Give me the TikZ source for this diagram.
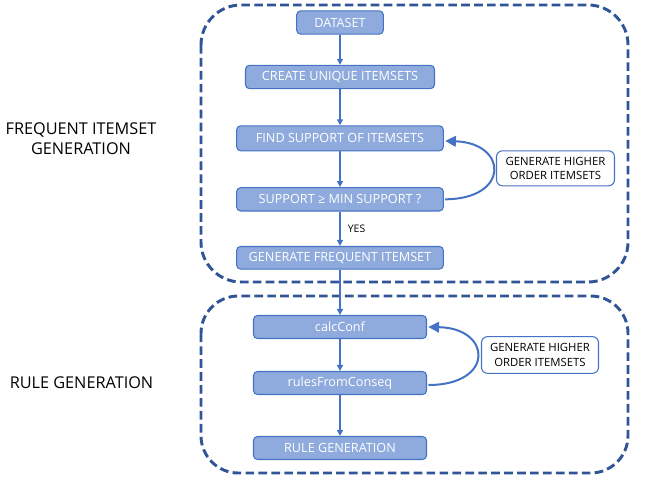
\documentclass[tikz,border=0pt]{standalone}
\usepackage{fontspec}
\setmainfont{Open Sans}
\usetikzlibrary{arrows.meta}
\definecolor{boxfill}{HTML}{8FAADC}
\definecolor{boxline}{HTML}{4472C4}
\definecolor{dashline}{HTML}{2F5597}
\definecolor{arrowc}{HTML}{4472C4}
\tikzset{
  stepbox/.style={draw=boxline, fill=boxfill, line width=0.8pt, rounded corners=3pt,
    inner sep=0pt, text=white, font=\fontsize{9.5}{10}\selectfont, minimum height=17.5pt},
  notebox/.style={draw=boxline, fill=white, line width=0.8pt, rounded corners=4.5pt,
    inner sep=0pt, align=center, text=black, font=\fontsize{8.5}{11}\selectfont},
  group/.style={draw=dashline, line width=2.2pt, dash pattern=on 6.5pt off 3.2pt},
  flow/.style={draw=arrowc, line width=1.2pt, -{Triangle[length=4.5pt,width=4.5pt]}},
  loop/.style={draw=arrowc, line width=1.5pt, -{Triangle[length=8pt,width=8pt]}},
  sidelabel/.style={align=center, font=\fontsize{12.2}{15}\selectfont, inner sep=0pt}
}
\begin{document}
\begin{tikzpicture}[x=0.75pt,y=-0.75pt]
\useasboundingbox (0,0) rectangle (645,485);
% groups
\draw[group, rounded corners=30pt] (201,5) rectangle (628,282);
\draw[group, rounded corners=28pt] (201,296) rectangle (628,473);
% nodes
\node[stepbox, minimum width=65pt] (ds) at (340,22.5) {DATASET};
\node[stepbox, minimum width=141.75pt] (cu) at (340,77) {CREATE UNIQUE ITEMSETS};
\node[stepbox, minimum width=155pt, minimum height=18.75pt] (fs) at (340,138.3) {FIND SUPPORT OF ITEMSETS};
\node[stepbox, minimum width=155pt] (sm) at (340,199.3) {SUPPORT ≥ MIN SUPPORT ?};
\node[stepbox, minimum width=155pt, minimum height=17pt] (gf) at (340,257.8) {GENERATE FREQUENT ITEMSET};
\node[notebox, minimum width=88.5pt, minimum height=26.25pt] (gh1) at (555.5,168.3) {GENERATE HIGHER\\ORDER ITEMSETS};
\node[stepbox, minimum width=129.75pt, minimum height=17.25pt] (cc) at (340,327) {calcConf};
\node[stepbox, minimum width=129.75pt, minimum height=17.25pt] (rf) at (340,383) {rulesFromConseq};
\node[stepbox, minimum width=129.75pt, minimum height=17.25pt] (rg) at (340,448) {RULE GENERATION};
\node[notebox, minimum width=87.75pt, minimum height=27.5pt] (gh2) at (540,355) {GENERATE HIGHER\\ORDER ITEMSETS};
% side labels
\node[sidelabel] (l1) at (81,139) {FREQUENT ITEMSET\\GENERATION};
\node[sidelabel] (l2) at (81.5,383) {RULE GENERATION};
% connectors
\draw[flow] (ds) -- (cu);
\draw[flow] (cu) -- (fs);
\draw[flow] (fs) -- (sm);
\draw[flow] (sm) -- node[right, font=\fontsize{7.8}{9}\selectfont, text=black, xshift=2pt] (yes) {YES} (gf);
\draw[flow] (gf) -- (cc);
\draw[flow] (cc) -- (rf);
\draw[flow] (rf) -- (rg);
\draw[loop] ([xshift=1pt]sm.east) .. controls (510,199) and (508,143) .. ([xshift=1pt,yshift=-2pt]fs.east);
\draw[loop] ([xshift=1pt,yshift=-1.5pt]rf.east) .. controls (495,385) and (492,328) .. ([xshift=1pt]cc.east);
\end{tikzpicture}
\end{document}
